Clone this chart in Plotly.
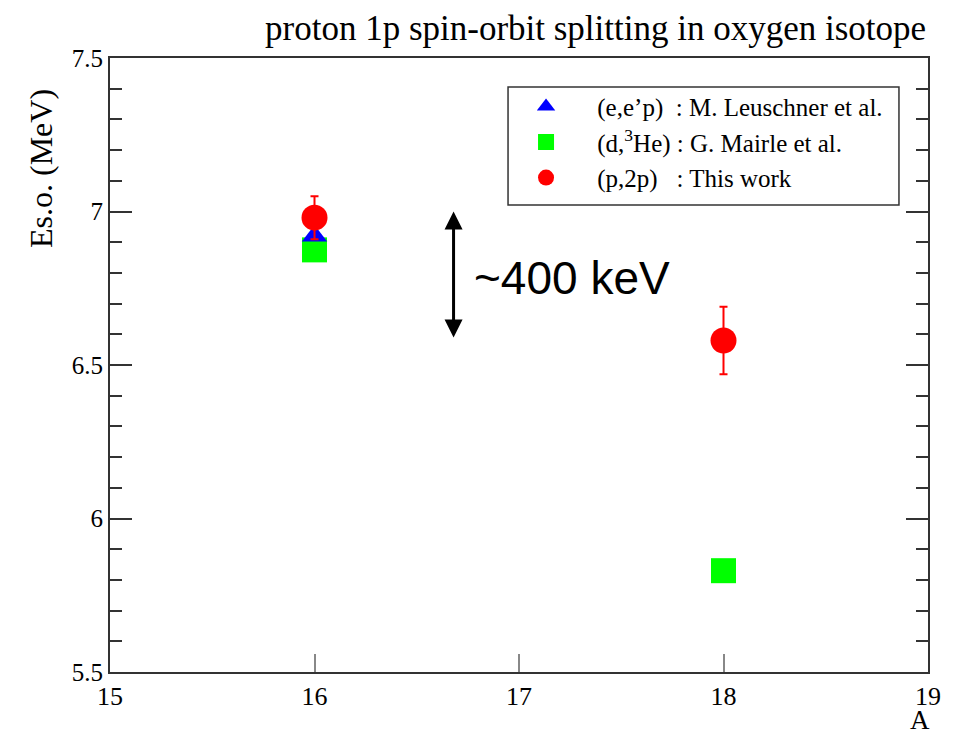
import plotly.graph_objects as go

# Data
A_eep = [16]
E_eep = [6.92]

A_d3he = [16, 18]
E_d3he = [6.875, 5.83]

A_p2p = [16, 18]
E_p2p = [6.98, 6.58]
Err_p2p = [0.07, 0.11]

x_ticks = [15, 16, 17, 18, 19]
y_ticks = [5.5, 6, 6.5, 7, 7.5]
y_ticktext = ["5.5", "6", "6.5", "7", "7.5"]

SERIF = "Liberation Serif"
NB = "\u00a0"

fig = go.Figure()

fig.add_trace(go.Scatter(
    x=A_d3he, y=E_d3he, mode="markers",
    name=NB * 5 + "(d,<sup>3</sup>He) : G. Mairle et al.",
    marker=dict(symbol="square", size=25, color="#00ff00"),
    legendrank=2,
))
fig.add_trace(go.Scatter(
    x=A_eep, y=E_eep, mode="markers",
    name=NB * 5 + "(e,e’p)" + NB * 2 + ": M. Leuschner et al.",
    marker=dict(symbol="triangle-up", size=22, color="#0000ff"),
    legendrank=1,
))
fig.add_trace(go.Scatter(
    x=A_p2p, y=E_p2p, mode="markers",
    name=NB * 5 + "(p,2p)" + NB * 3 + ": This work",
    marker=dict(symbol="circle", size=26, color="#ff0000"),
    error_y=dict(type="data", array=Err_p2p, color="#ff0000", thickness=2, width=4),
    legendrank=3,
))

# ~400 keV double arrow
fig.add_annotation(
    x=16.68, y=7.0, ax=16.68, ay=6.585, xref="x", yref="y", axref="x", ayref="y",
    text="", showarrow=True, arrowhead=2, arrowside="end+start",
    arrowwidth=3, arrowsize=1.2, arrowcolor="black",
)
fig.add_annotation(
    x=16.77, y=6.783, xref="x", yref="y", xanchor="left", yanchor="middle",
    text="~400 keV", showarrow=False,
    font=dict(family="Liberation Sans", size=46, color="black"),
)
# title
fig.add_annotation(
    x=1.0, y=1.0, xref="paper", yref="paper", xanchor="right", yanchor="bottom",
    yshift=8, text="proton 1p spin-orbit splitting in oxygen isotope",
    showarrow=False, font=dict(family=SERIF, size=35, color="black"),
)
# axis titles
fig.add_annotation(
    x=-0.085, y=0.82, xref="paper", yref="paper", xanchor="center", yanchor="middle",
    text="Es.o. (MeV)", textangle=-90, showarrow=False,
    font=dict(family=SERIF, size=32, color="black"),
)
fig.add_annotation(
    x=0.99, y=-0.05, xref="paper", yref="paper", xanchor="center", yanchor="top",
    text="A", showarrow=False,
    font=dict(family=SERIF, size=27, color="black"),
)

# legend frame
fig.add_shape(
    type="rect", xref="paper", yref="paper",
    x0=0.4866, x1=0.9645, y0=0.7606, y1=0.9528,
    line=dict(color="#333333", width=1.5), fillcolor="rgba(0,0,0,0)", layer="above",
)

fig.update_layout(
    width=948, height=729,
    margin=dict(l=102, r=28, t=50, b=65),
    paper_bgcolor="white", plot_bgcolor="white",
    showlegend=True,
    legend=dict(
        x=0.5086, y=0.958, xanchor="left", yanchor="top",
        borderwidth=0, bgcolor="rgba(0,0,0,0)",
        font=dict(family=SERIF, size=25, color="black"),
        itemsizing="trace",
    ),
    xaxis=dict(
        range=[15, 19], tickvals=x_ticks, ticktext=[str(v) for v in x_ticks],
        showgrid=False, zeroline=False,
        showline=True, linecolor="#333333", linewidth=2, mirror=True,
        ticks="inside", ticklen=18, tickwidth=2, tickcolor="#888888",
        tickfont=dict(family=SERIF, size=26, color="black"),
    ),
    yaxis=dict(
        range=[5.5, 7.5], tickvals=y_ticks, ticktext=y_ticktext,
        showgrid=False, zeroline=False,
        showline=True, linecolor="#333333", linewidth=2, mirror="ticks",
        ticks="inside", ticklen=22, tickwidth=2, tickcolor="#333333",
        tickfont=dict(family=SERIF, size=25, color="black"),
        minor=dict(dtick=0.1, ticks="inside", ticklen=12, tickwidth=2, tickcolor="#333333"),
    ),
)

fig.write_html("out.html")
